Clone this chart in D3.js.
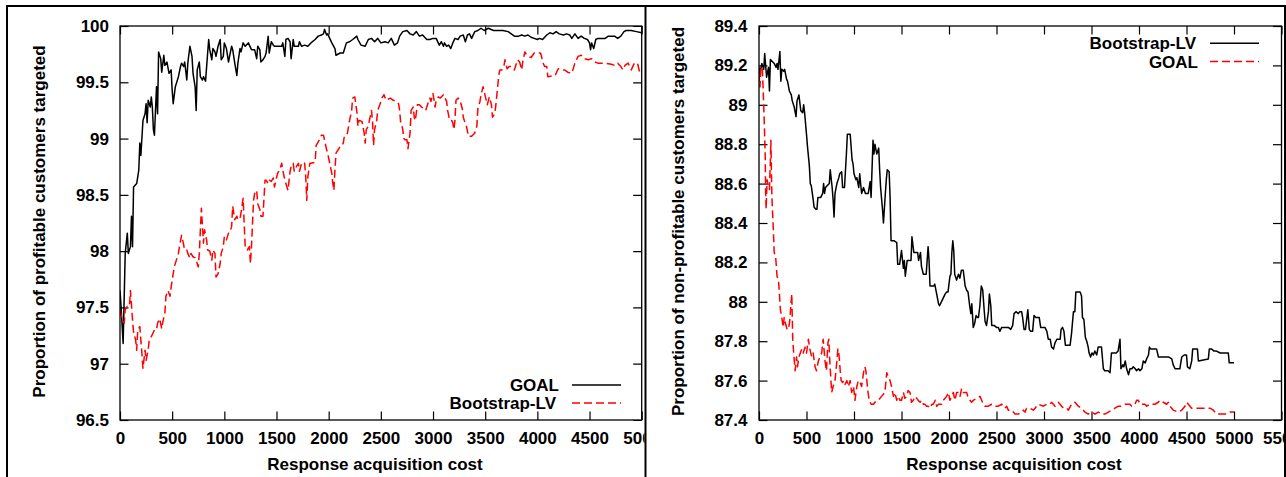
<!DOCTYPE html>
<html>
<head>
<meta charset="utf-8">
<script src="https://cdn.jsdelivr.net/npm/d3@7"></script>
<style>
  html, body { margin: 0; padding: 0; background: #fff; }
  svg text { font-family: "Liberation Sans", Arial, Helvetica, sans-serif; font-weight: bold; font-size: 17px; fill: #000; }
</style>
</head>
<body>
<svg id="chart" width="1286" height="477"></svg>
<script>
// ---- Axis ticks ----
const costTicksLeft = [0, 500, 1000, 1500, 2000, 2500, 3000, 3500, 4000, 4500, 5000];
const costTicksRight = [0, 500, 1000, 1500, 2000, 2500, 3000, 3500, 4000, 4500, 5000, 5500];
const profitableTicks = [96.5, 97, 97.5, 98, 98.5, 99, 99.5, 100];
const nonProfitableTicks = [87.4, 87.6, 87.8, 88, 88.2, 88.4, 88.6, 88.8, 89, 89.2, 89.4];

// ---- Series: [response acquisition cost, % targeted] ----
// Profitable customers targeted, GOAL
const goalProfitable = [[0,97.65],[10,97.51],[30,97.18],[50,97.98],[70,98.16],[80,97.98],[100,98.04],[110,98.31],[120,98.04],[130,98.57],[160,98.60],[180,98.72],[190,98.96],[200,98.85],[220,99.16],[240,99.22],[250,99.31],[260,99.14],[270,99.34],[290,99.28],[300,99.37],[310,99.28],[320,99.08],[330,99.03],[350,99.46],[360,99.22],[370,99.77],[390,99.71],[400,99.59],[420,99.74],[430,99.65],[450,99.68],[470,99.58],[490,99.61],[500,99.43],[510,99.31],[530,99.46],[540,99.49],[560,99.55],[580,99.64],[590,99.67],[610,99.64],[620,99.68],[640,99.52],[650,99.67],[670,99.82],[690,99.73],[700,99.58],[720,99.46],[730,99.25],[740,99.61],[760,99.68],[770,99.55],[790,99.52],[800,99.55],[820,99.51],[840,99.76],[850,99.88],[860,99.79],[880,99.70],[890,99.80],[910,99.77],[920,99.73],[940,99.82],[960,99.88],[970,99.70],[990,99.73],[1000,99.85],[1020,99.80],[1040,99.68],[1050,99.73],[1070,99.82],[1080,99.79],[1100,99.67],[1120,99.56],[1130,99.67],[1150,99.80],[1160,99.77],[1180,99.85],[1200,99.82],[1230,99.85],[1260,99.79],[1290,99.79],[1310,99.71],[1320,99.82],[1340,99.79],[1350,99.68],[1370,99.70],[1390,99.73],[1400,99.76],[1420,99.91],[1430,99.76],[1450,99.86],[1470,99.83],[1480,99.82],[1510,99.82],[1550,99.82],[1560,99.85],[1580,99.73],[1590,99.88],[1610,99.89],[1630,99.86],[1640,99.71],[1660,99.88],[1670,99.82],[1710,99.82],[1720,99.86],[1740,99.82],[1770,99.83],[1800,99.82],[1830,99.85],[1870,99.88],[1900,99.91],[1930,99.92],[1950,99.93],[1960,99.97],[1980,99.92],[1990,99.93],[2030,99.85],[2060,99.80],[2070,99.74],[2110,99.76],[2140,99.76],[2170,99.85],[2200,99.86],[2230,99.88],[2270,99.91],[2280,99.88],[2310,99.83],[2350,99.82],[2380,99.88],[2410,99.89],[2440,99.86],[2470,99.89],[2500,99.85],[2540,99.86],[2570,99.85],[2600,99.89],[2630,99.83],[2660,99.85],[2680,99.91],[2710,99.95],[2750,99.96],[2780,99.93],[2810,99.92],[2840,99.95],[2870,99.91],[2900,99.92],[2940,99.88],[2970,99.88],[3000,99.89],[3030,99.89],[3060,99.83],[3080,99.86],[3100,99.82],[3110,99.85],[3130,99.82],[3150,99.83],[3170,99.80],[3190,99.85],[3210,99.89],[3240,99.88],[3260,99.91],[3290,99.92],[3310,99.86],[3330,99.92],[3350,99.93],[3370,99.89],[3400,99.95],[3430,99.96],[3460,99.98],[3490,99.96],[3530,99.98],[3580,99.96],[3620,99.96],[3670,99.96],[3720,99.95],[3750,99.93],[3780,99.91],[3820,99.91],[3850,99.92],[3880,99.91],[3910,99.92],[3940,99.90],[3970,99.89],[4000,99.88],[4020,99.89],[4050,99.88],[4090,99.92],[4120,99.94],[4150,99.93],[4180,99.95],[4210,99.93],[4250,99.92],[4280,99.93],[4310,99.92],[4330,99.89],[4360,99.93],[4390,99.89],[4420,99.91],[4450,99.89],[4480,99.88],[4500,99.85],[4510,99.79],[4520,99.85],[4540,99.80],[4560,99.88],[4580,99.89],[4610,99.89],[4650,99.89],[4680,99.91],[4710,99.91],[4740,99.91],[4770,99.89],[4800,99.91],[4830,99.95],[4850,99.96],[4900,99.96],[4950,99.95],[5000,99.94]];

// Profitable customers targeted, Bootstrap-LV
const bootProfitable = [[0,97.48],[20,97.39],[40,97.36],[50,97.48],[70,97.51],[90,97.51],[100,97.65],[120,97.39],[130,97.28],[150,97.21],[160,97.12],[170,97.30],[190,97.33],[200,97.21],[210,97.09],[220,96.96],[240,97.12],[250,97.03],[270,97.12],[280,97.21],[300,97.24],[330,97.30],[350,97.30],[360,97.36],[380,97.40],[400,97.31],[410,97.37],[430,97.45],[440,97.60],[460,97.65],[480,97.60],[490,97.68],[510,97.80],[520,97.86],[540,97.92],[560,97.98],[570,98.04],[590,98.14],[600,98.10],[620,98.01],[640,98.01],[650,97.98],[670,97.94],[680,97.98],[700,97.95],[720,97.94],[730,97.92],[750,97.86],[760,97.98],[780,98.38],[800,98.07],[810,98.19],[830,98.10],[840,98.01],[860,98.00],[880,97.92],[890,98.01],[910,97.98],[920,97.77],[940,97.80],[960,97.89],[970,97.98],[990,98.04],[1000,98.13],[1020,98.10],[1040,98.16],[1050,98.16],[1070,98.22],[1080,98.40],[1100,98.28],[1120,98.31],[1130,98.28],[1150,98.29],[1160,98.34],[1180,98.47],[1190,98.25],[1200,98.04],[1220,98.01],[1240,98.04],[1250,97.89],[1260,98.04],[1280,98.45],[1290,98.51],[1310,98.54],[1320,98.42],[1340,98.37],[1350,98.31],[1370,98.31],[1390,98.63],[1400,98.63],[1420,98.60],[1430,98.63],[1450,98.62],[1470,98.65],[1480,98.57],[1500,98.65],[1510,98.69],[1530,98.72],[1550,98.78],[1560,98.72],[1580,98.63],[1590,98.60],[1610,98.54],[1630,98.71],[1640,98.75],[1660,98.78],[1670,98.71],[1690,98.75],[1710,98.78],[1720,98.71],[1740,98.78],[1750,98.79],[1770,98.78],[1780,98.66],[1790,98.45],[1800,98.66],[1820,98.78],[1830,98.78],[1870,98.79],[1880,98.94],[1900,98.97],[1910,98.99],[1930,99.03],[1950,99.03],[1960,98.99],[1980,98.90],[1990,98.87],[2010,98.78],[2030,98.69],[2040,98.60],[2050,98.54],[2060,98.72],[2070,98.87],[2090,98.90],[2110,98.93],[2120,98.93],[2140,98.96],[2150,99.02],[2170,99.03],[2180,99.05],[2200,99.16],[2220,99.25],[2230,99.36],[2250,99.37],[2270,99.24],[2280,99.11],[2290,99.16],[2300,99.16],[2320,99.15],[2340,99.05],[2350,98.96],[2360,99.08],[2380,99.11],[2390,99.16],[2410,99.25],[2420,99.16],[2430,98.94],[2440,99.08],[2460,99.16],[2470,99.25],[2490,99.30],[2510,99.36],[2530,99.39],[2550,99.34],[2590,99.36],[2620,99.34],[2650,99.33],[2670,99.31],[2680,99.25],[2690,99.14],[2700,99.12],[2710,99.08],[2720,99.00],[2730,98.99],[2750,98.99],[2760,98.91],[2780,99.05],[2790,99.25],[2810,99.28],[2820,99.19],[2830,99.16],[2850,99.30],[2870,99.30],[2890,99.28],[2910,99.27],[2930,99.25],[2950,99.31],[2970,99.36],[2980,99.33],[3000,99.40],[3020,99.28],[3030,99.34],[3050,99.37],[3070,99.36],[3100,99.39],[3110,99.37],[3130,99.33],[3140,99.25],[3160,99.16],[3180,99.16],[3190,99.14],[3200,99.08],[3210,99.16],[3220,99.34],[3240,99.36],[3260,99.34],[3270,99.30],[3280,99.27],[3290,99.19],[3300,99.16],[3320,99.11],[3340,99.02],[3370,99.02],[3380,99.03],[3400,99.05],[3420,99.11],[3430,99.27],[3450,99.33],[3460,99.39],[3480,99.46],[3490,99.42],[3510,99.34],[3520,99.30],[3540,99.37],[3560,99.30],[3570,99.19],[3590,99.22],[3600,99.28],[3610,99.37],[3630,99.56],[3640,99.61],[3660,99.61],[3680,99.65],[3690,99.70],[3710,99.62],[3730,99.64],[3750,99.64],[3780,99.61],[3790,99.64],[3810,99.70],[3830,99.68],[3850,99.61],[3860,99.68],[3880,99.77],[3900,99.74],[3910,99.73],[3940,99.72],[3970,99.76],[4010,99.76],[4030,99.76],[4040,99.73],[4050,99.68],[4070,99.64],[4090,99.64],[4100,99.55],[4170,99.56],[4180,99.58],[4200,99.62],[4230,99.61],[4260,99.61],[4290,99.59],[4330,99.58],[4340,99.61],[4360,99.67],[4390,99.73],[4420,99.74],[4450,99.71],[4490,99.70],[4520,99.71],[4550,99.68],[4580,99.67],[4650,99.67],[4710,99.66],[4740,99.65],[4770,99.67],[4800,99.64],[4820,99.61],[4840,99.65],[4870,99.67],[4900,99.61],[4930,99.67],[4960,99.67],[4980,99.59],[5000,99.59]];

// Non-profitable customers targeted, Bootstrap-LV
const bootNonProfitable = [[0,89.19],[10,89.16],[30,89.21],[50,89.18],[60,89.26],[80,89.14],[100,89.19],[110,89.07],[120,89.23],[140,89.22],[160,89.21],[180,89.19],[190,89.21],[200,89.18],[220,89.27],[230,89.12],[240,89.18],[260,89.17],[270,89.18],[290,89.13],[300,89.12],[320,89.07],[340,89.05],[350,89.02],[370,88.99],[390,88.94],[400,89.02],[420,89.05],[440,88.97],[460,88.96],[470,89.00],[480,88.96],[500,88.85],[510,88.79],[530,88.69],[540,88.60],[550,88.59],[570,88.52],[580,88.48],[600,88.47],[610,88.47],[620,88.53],[640,88.53],[650,88.53],[670,88.55],[680,88.60],[690,88.55],[700,88.58],[720,88.59],[740,88.60],[750,88.67],[770,88.58],[780,88.52],[790,88.43],[800,88.55],[820,88.60],[840,88.63],[850,88.65],[870,88.66],[880,88.58],[900,88.58],[920,88.75],[930,88.85],[960,88.85],[980,88.72],[990,88.70],[1000,88.65],[1020,88.62],[1030,88.63],[1050,88.58],[1060,88.65],[1080,88.55],[1100,88.58],[1120,88.55],[1130,88.55],[1150,88.55],[1170,88.61],[1180,88.53],[1200,88.82],[1210,88.75],[1220,88.80],[1240,88.75],[1260,88.78],[1270,88.67],[1280,88.58],[1300,88.47],[1310,88.40],[1330,88.55],[1340,88.62],[1350,88.67],[1370,88.66],[1380,88.53],[1390,88.31],[1400,88.31],[1420,88.31],[1450,88.30],[1460,88.19],[1480,88.19],[1500,88.26],[1520,88.17],[1530,88.21],[1540,88.13],[1560,88.21],[1580,88.21],[1600,88.21],[1610,88.33],[1630,88.25],[1650,88.25],[1670,88.25],[1680,88.21],[1700,88.25],[1710,88.18],[1730,88.14],[1760,88.14],[1780,88.28],[1790,88.21],[1800,88.08],[1840,88.08],[1850,88.09],[1870,88.04],[1890,87.99],[1900,87.98],[1920,88.00],[1940,88.02],[1960,88.04],[1975,88.05],[1990,88.05],[2010,88.13],[2020,88.14],[2030,88.25],[2040,88.31],[2050,88.26],[2060,88.14],[2080,88.11],[2100,88.14],[2115,88.12],[2130,88.16],[2150,88.16],[2170,88.08],[2185,88.06],[2200,88.05],[2215,87.99],[2230,87.94],[2240,87.99],[2255,87.87],[2270,87.89],[2285,87.93],[2300,87.92],[2310,87.92],[2325,87.98],[2340,88.08],[2355,88.06],[2370,87.96],[2380,87.90],[2395,87.88],[2415,87.95],[2425,88.04],[2440,87.98],[2450,87.88],[2475,87.88],[2500,87.87],[2520,87.87],[2535,87.85],[2555,87.87],[2590,87.87],[2625,87.87],[2650,87.86],[2670,87.88],[2685,87.94],[2705,87.95],[2730,87.94],[2745,87.95],[2765,87.95],[2775,87.92],[2790,87.86],[2805,87.86],[2815,87.90],[2830,87.96],[2845,87.86],[2860,87.85],[2880,87.85],[2895,87.93],[2915,87.92],[2950,87.92],[2965,87.87],[3010,87.87],[3030,87.85],[3045,87.81],[3065,87.81],[3080,87.77],[3100,87.76],[3115,87.79],[3135,87.81],[3170,87.81],[3180,87.86],[3195,87.87],[3210,87.85],[3225,87.78],[3275,87.78],[3290,87.84],[3310,87.95],[3325,87.95],[3335,88.05],[3380,88.05],[3395,88.03],[3405,87.92],[3420,87.91],[3435,87.82],[3450,87.80],[3465,87.77],[3475,87.74],[3490,87.72],[3505,87.74],[3520,87.73],[3535,87.75],[3555,87.73],[3570,87.77],[3605,87.77],[3625,87.66],[3640,87.65],[3675,87.65],[3695,87.64],[3710,87.74],[3760,87.74],[3780,87.75],[3800,87.81],[3810,87.66],[3830,87.68],[3840,87.67],[3855,87.70],[3870,87.66],[3890,87.63],[3905,87.66],[3925,87.66],[3940,87.67],[3960,87.66],[3975,87.65],[3995,87.66],[4010,87.65],[4030,87.66],[4045,87.70],[4065,87.69],[4080,87.71],[4100,87.73],[4110,87.77],[4125,87.76],[4185,87.76],[4205,87.72],[4310,87.72],[4345,87.71],[4360,87.68],[4380,87.66],[4430,87.66],[4450,87.72],[4475,87.73],[4500,87.73],[4510,87.67],[4535,87.66],[4555,87.70],[4565,87.76],[4615,87.76],[4625,87.70],[4730,87.71],[4740,87.76],[4765,87.76],[4790,87.75],[4815,87.75],[4855,87.74],[4940,87.74],[4950,87.69],[5000,87.69]];

// Non-profitable customers targeted, GOAL
const goalNonProfitable = [[0,89.16],[10,89.09],[20,89.19],[35,89.19],[45,89.06],[55,88.92],[65,88.75],[70,88.55],[75,88.47],[85,88.62],[100,88.58],[110,88.57],[120,88.72],[125,88.82],[135,88.55],[140,88.48],[150,88.38],[160,88.25],[175,88.23],[190,88.13],[205,88.11],[215,88.04],[225,87.96],[240,87.92],[255,87.87],[265,87.92],[280,87.89],[295,87.86],[310,87.86],[325,87.91],[335,87.98],[345,88.04],[355,87.81],[365,87.74],[380,87.65],[395,87.72],[405,87.67],[420,87.72],[435,87.74],[450,87.76],[465,87.74],[485,87.77],[500,87.74],[520,87.81],[535,87.76],[555,87.72],[570,87.74],[590,87.67],[605,87.65],[625,87.70],[640,87.72],[660,87.74],[675,87.81],[695,87.70],[710,87.65],[725,87.79],[735,87.81],[745,87.70],[765,87.54],[780,87.57],[800,87.60],[820,87.70],[830,87.76],[840,87.74],[855,87.65],[865,87.60],[880,87.59],[890,87.60],[905,87.58],[925,87.60],[940,87.57],[960,87.60],[975,87.54],[995,87.57],[1010,87.50],[1030,87.57],[1045,87.60],[1065,87.59],[1080,87.57],[1100,87.64],[1115,87.67],[1125,87.65],[1145,87.55],[1160,87.50],[1180,87.48],[1205,87.48],[1220,87.49],[1255,87.50],[1290,87.52],[1325,87.54],[1345,87.64],[1360,87.62],[1380,87.60],[1395,87.57],[1415,87.52],[1430,87.54],[1450,87.50],[1465,87.52],[1485,87.50],[1500,87.50],[1520,87.54],[1535,87.51],[1555,87.52],[1570,87.55],[1590,87.54],[1605,87.49],[1625,87.50],[1640,87.52],[1660,87.51],[1675,87.50],[1695,87.49],[1710,87.50],[1730,87.48],[1745,87.48],[1765,87.47],[1780,87.47],[1800,87.46],[1820,87.48],[1835,87.48],[1855,87.50],[1870,87.47],[1890,87.48],[1905,87.48],[1923,87.48],[1940,87.50],[1958,87.51],[1975,87.52],[1993,87.54],[2010,87.50],[2028,87.52],[2045,87.54],[2063,87.50],[2080,87.54],[2098,87.54],[2116,87.52],[2133,87.56],[2151,87.54],[2168,87.54],[2186,87.54],[2203,87.51],[2221,87.50],[2238,87.49],[2256,87.50],[2291,87.51],[2326,87.52],[2344,87.50],[2361,87.48],[2379,87.47],[2414,87.47],[2449,87.48],[2484,87.47],[2519,87.47],[2554,87.48],[2589,87.46],[2607,87.47],[2624,87.45],[2659,87.45],[2695,87.43],[2730,87.43],[2765,87.44],[2782,87.45],[2800,87.44],[2817,87.46],[2852,87.46],[2888,87.45],[2923,87.47],[2940,87.48],[2993,87.47],[3028,87.48],[3063,87.48],[3080,87.49],[3098,87.48],[3116,87.47],[3151,87.49],[3186,87.47],[3203,87.46],[3238,87.46],[3256,87.45],[3291,87.48],[3326,87.49],[3361,87.47],[3396,87.46],[3414,87.45],[3431,87.44],[3466,87.43],[3502,87.44],[3537,87.43],[3572,87.44],[3607,87.43],[3642,87.43],[3677,87.44],[3712,87.45],[3747,87.46],[3782,87.47],[3817,87.47],[3853,87.48],[3905,87.48],[3923,87.47],[3958,87.48],[3975,87.50],[3993,87.50],[4010,87.48],[4063,87.48],[4081,87.47],[4116,87.48],[4168,87.48],[4203,87.49],[4221,87.50],[4256,87.49],[4291,87.48],[4309,87.49],[4326,87.47],[4361,87.45],[4414,87.44],[4449,87.45],[4484,87.47],[4502,87.49],[4519,87.48],[4554,87.46],[4589,87.46],[4660,87.46],[4747,87.46],[4782,87.45],[4817,87.43],[4923,87.43],[4958,87.44],[5000,87.44]];

const svg = d3.select("#chart");
const fmt = d3.format("~g");

function drawPanel(o) {
  const g = svg.append("g");
  if (o.clipRight) {
    const id = "panelClip" + o.id;
    svg.append("clipPath").attr("id", id).append("rect")
      .attr("x", 0).attr("y", 0).attr("width", o.clipRight).attr("height", 477);
    g.attr("clip-path", `url(#${id})`);
  }
  const x = d3.scaleLinear().domain(o.xDomain).range([o.left, o.right]);
  const y = d3.scaleLinear().domain(o.yDomain).range([o.bottom, o.top]);
  const tickLen = 8.5;

  const styleAxis = sel => {
    sel.select(".domain").remove();
    sel.selectAll(".tick line").attr("stroke", "#000").attr("stroke-width", 1.2);
  };

  g.append("g").attr("transform", `translate(0,${o.bottom})`)
    .call(d3.axisBottom(x).tickValues(o.xTicks).tickSize(-tickLen).tickSizeOuter(0)
      .tickPadding(12).tickFormat(d3.format("d")))
    .call(styleAxis);
  g.append("g").attr("transform", `translate(0,${o.top})`)
    .call(d3.axisTop(x).tickValues(o.xTicks).tickSize(-tickLen).tickSizeOuter(0).tickFormat(""))
    .call(styleAxis);
  g.append("g").attr("transform", `translate(${o.left},0)`)
    .call(d3.axisLeft(y).tickValues(o.yTicks).tickSize(-tickLen).tickSizeOuter(0)
      .tickPadding(o.yPad).tickFormat(fmt))
    .call(styleAxis);
  g.append("g").attr("transform", `translate(${o.right},0)`)
    .call(d3.axisRight(y).tickValues(o.yTicks).tickSize(-tickLen).tickSizeOuter(0).tickFormat(""))
    .call(styleAxis);

  // plotted series, clipped to the plot frame
  const cid = "plotClip" + o.id;
  svg.append("clipPath").attr("id", cid).append("rect")
    .attr("x", o.left).attr("y", o.top - 1)
    .attr("width", o.right - o.left).attr("height", o.bottom - o.top + 2);
  const line = d3.line().x(d => x(d[0])).y(d => y(d[1]));
  const plot = g.append("g").attr("clip-path", `url(#${cid})`);
  o.series.forEach(s => {
    plot.append("path").datum(s.data)
      .attr("fill", "none").attr("stroke", s.color).attr("stroke-width", 1.5)
      .attr("stroke-linejoin", "round")
      .attr("stroke-dasharray", s.dash || null)
      .attr("d", line);
  });

  // plot frame
  g.append("rect").attr("x", o.left).attr("y", o.top)
    .attr("width", o.right - o.left).attr("height", o.bottom - o.top)
    .attr("fill", "none").attr("stroke", "#000").attr("stroke-width", 1.3);

  // legend
  o.series.forEach((s, i) => {
    const ly = o.legendY[i];
    g.append("text").attr("x", o.legendTextX[i]).attr("y", ly + 6)
      .attr("text-anchor", "end").text(s.name);
    g.append("line").attr("x1", o.legendLine[0]).attr("x2", o.legendLine[1])
      .attr("y1", ly).attr("y2", ly)
      .attr("stroke", s.color).attr("stroke-width", 1.5)
      .attr("stroke-dasharray", s.dash || null);
  });

  // axis titles
  g.append("text").attr("x", o.xTitleX).attr("y", 470)
    .attr("text-anchor", "middle").text("Response acquisition cost");
  g.append("text").attr("transform", `translate(${o.yTitleX},221.5) rotate(-90)`)
    .attr("text-anchor", "middle").text(o.yTitle);
}

drawPanel({
  id: "L", clipRight: 644.5,
  left: 120, right: 641.7, top: 26, bottom: 420,
  xDomain: [0, 5000], yDomain: [96.5, 100],
  xTicks: costTicksLeft, yTicks: profitableTicks, yPad: 11,
  series: [
    { name: "GOAL", data: goalProfitable, color: "#000" },
    { name: "Bootstrap-LV", data: bootProfitable, color: "#ff0000", dash: "8,4" }
  ],
  legendY: [385, 403], legendTextX: [559, 556], legendLine: [572, 621],
  xTitleX: 375, yTitleX: 44.5,
  yTitle: "Proportion of profitable customers targeted"
});

drawPanel({
  id: "R",
  left: 759, right: 1281.5, top: 26, bottom: 420,
  xDomain: [0, 5500], yDomain: [87.4, 89.4],
  xTicks: costTicksRight, yTicks: nonProfitableTicks, yPad: 11.5,
  series: [
    { name: "Bootstrap-LV", data: bootNonProfitable, color: "#000" },
    { name: "GOAL", data: goalNonProfitable, color: "#ff0000", dash: "8,4" }
  ],
  legendY: [43.3, 61.5], legendTextX: [1196, 1198], legendLine: [1210, 1259],
  xTitleX: 1014, yTitleX: 684,
  yTitle: "Proportion of non-profitable customers targeted"
});

// outer frame and panel divider
const frame = svg.append("g").attr("stroke", "#000").attr("stroke-width", 2);
frame.append("line").attr("x1", 6).attr("x2", 1286).attr("y1", 6).attr("y2", 6);
frame.append("line").attr("x1", 7).attr("x2", 7).attr("y1", 6).attr("y2", 477);
frame.append("line").attr("x1", 645.5).attr("x2", 645.5).attr("y1", 6).attr("y2", 477);
frame.append("line").attr("x1", 1285).attr("x2", 1285).attr("y1", 6).attr("y2", 477);
</script>
</body>
</html>
